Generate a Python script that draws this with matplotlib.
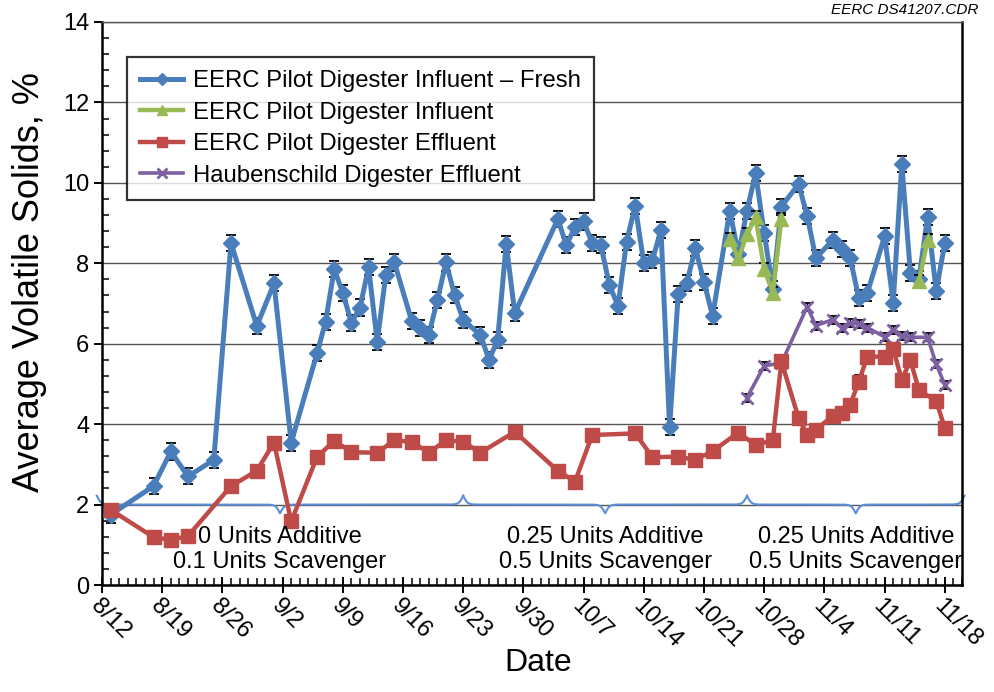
import numpy as np
import pandas as pd
import matplotlib
matplotlib.use("Agg")
import matplotlib.pyplot as plt
import matplotlib.dates as mdates
from matplotlib.ticker import MultipleLocator

plt.rcParams["font.family"] = ["Liberation Sans", "DejaVu Sans"]

YEAR = 2013

# EERC pilot digester influent, fresh samples (%)
fresh_dates = ["8/13", "8/18", "8/20", "8/22", "8/25", "8/27", "8/30", "9/1", "9/3",
               "9/6", "9/7", "9/8", "9/9", "9/10", "9/11", "9/12", "9/13", "9/14",
               "9/15", "9/17", "9/18", "9/19", "9/20", "9/21", "9/22", "9/23", "9/25",
               "9/26", "9/27", "9/28", "9/29", "10/4", "10/5", "10/6", "10/7", "10/8",
               "10/9", "10/10", "10/11", "10/12", "10/13", "10/14", "10/15", "10/16",
               "10/17", "10/18", "10/19", "10/20", "10/21", "10/22", "10/24", "10/25",
               "10/26", "10/27", "10/28", "10/29", "10/30", "11/1", "11/2", "11/3",
               "11/5", "11/6", "11/7", "11/8", "11/9", "11/11", "11/12", "11/13",
               "11/14", "11/15", "11/16", "11/17", "11/18"]
fresh_vals = [1.75, 2.46, 3.32, 2.70, 3.11, 8.51, 6.44, 7.50, 3.54,
              5.76, 6.55, 7.85, 7.27, 6.52, 6.90, 7.90, 6.05, 7.71,
              8.02, 6.57, 6.39, 6.22, 7.09, 8.02, 7.21, 6.59, 6.22,
              5.60, 6.09, 8.48, 6.76, 9.10, 8.45, 8.90, 9.04, 8.50,
              8.46, 7.46, 6.94, 8.54, 9.43, 8.00, 8.08, 8.83,
              3.92, 7.23, 7.52, 8.37, 7.54, 6.69, 9.31, 8.22,
              9.31, 10.24, 8.75, 7.36, 9.41, 9.97, 9.18, 8.13,
              8.58, 8.35, 8.13, 7.13, 7.27, 8.67, 7.02, 10.47,
              7.76, 7.62, 9.16, 7.31, 8.50]

# EERC pilot digester influent (two sampling runs)
influent_dates_a = ["10/24", "10/25", "10/26", "10/27", "10/28", "10/29", "10/30"]
influent_vals_a = [8.60, 8.12, 8.72, 9.14, 7.86, 7.26, 9.10]
influent_dates_b = ["11/15", "11/16"]
influent_vals_b = [7.56, 8.58]

# EERC pilot digester effluent (%)
effluent_dates = ["8/13", "8/18", "8/20", "8/22", "8/27", "8/30", "9/1", "9/3", "9/6",
                  "9/8", "9/10", "9/13", "9/15", "9/17", "9/19", "9/21", "9/23", "9/25",
                  "9/29", "10/4", "10/6", "10/8", "10/13", "10/15", "10/18", "10/20",
                  "10/22", "10/25", "10/27", "10/29", "10/30", "11/1", "11/2", "11/3",
                  "11/5", "11/6", "11/7", "11/8", "11/9", "11/11", "11/12", "11/13",
                  "11/14", "11/15", "11/17", "11/18"]
effluent_vals = [1.87, 1.19, 1.12, 1.22, 2.46, 2.84, 3.54, 1.58, 3.18,
                 3.59, 3.30, 3.29, 3.60, 3.56, 3.29, 3.60, 3.56, 3.29,
                 3.81, 2.84, 2.57, 3.73, 3.77, 3.18, 3.19, 3.11,
                 3.33, 3.79, 3.48, 3.60, 5.56, 4.15, 3.73, 3.86,
                 4.21, 4.27, 4.48, 5.06, 5.68, 5.68, 5.87, 5.10,
                 5.59, 4.84, 4.58, 3.90]

# Haubenschild full-scale digester effluent (%)
haub_dates = ["10/26", "10/28", "10/30", "11/2", "11/3", "11/5", "11/6", "11/7", "11/8",
              "11/9", "11/11", "11/12", "11/13", "11/14", "11/16", "11/17", "11/18"]
haub_vals = [4.66, 5.45, 5.52, 6.92, 6.45, 6.60, 6.40, 6.52, 6.49,
             6.40, 6.17, 6.34, 6.20, 6.16, 6.16, 5.49, 4.98]

# +/- error bar half-widths per series
fresh_err = 0.2
influent_err = 0.15
effluent_err = 0.15
haub_err = 0.1

# Treatment phases: boundaries and labels
phase_edges = ["8/12", "9/23", "10/26", "11/20"]
phase_labels = ["0 Units Additive\n0.1 Units Scavenger",
                "0.25 Units Additive\n0.5 Units Scavenger",
                "0.25 Units Additive\n0.5 Units Scavenger"]

xtick_labels = ["8/12", "8/19", "8/26", "9/2", "9/9", "9/16", "9/23", "9/30",
                "10/7", "10/14", "10/21", "10/28", "11/4", "11/11", "11/18"]
x_start, x_end = "8/12", "11/20"


def to_num(md):
    if isinstance(md, str):
        md = [md]
    d = pd.to_datetime([f"{YEAR}/{s}" for s in md], format="%Y/%m/%d")
    return mdates.date2num(d.to_pydatetime())


BLUE = "#4A7EBB"
GREEN = "#98B954"
RED = "#BE4B48"
PURPLE = "#7D60A0"

fig = plt.figure(figsize=(9.95, 6.92), dpi=100)
ax = fig.add_axes([102 / 995, 1 - 585 / 692, 860 / 995, 563 / 692])

eb_kw = dict(fmt="none", ecolor="black", elinewidth=1.0, capsize=3.5, capthick=1.3)

# fresh influent
xf = to_num(fresh_dates)
ax.errorbar(xf, fresh_vals, yerr=fresh_err, zorder=2.5, **eb_kw)
l1, = ax.plot(xf, fresh_vals, color=BLUE, lw=3.6, marker="D", ms=8.5,
              mfc=BLUE, mec=BLUE, zorder=3,
              label="EERC Pilot Digester Influent \u2013 Fresh")

# influent
l2 = None
for ds, vs in [(influent_dates_a, influent_vals_a), (influent_dates_b, influent_vals_b)]:
    xi = to_num(ds)
    ax.errorbar(xi, vs, yerr=influent_err, zorder=3.5, **eb_kw)
    h, = ax.plot(xi, vs, color=GREEN, lw=3.2, marker="^", ms=10,
                 mfc=GREEN, mec=GREEN, zorder=4)
    if l2 is None:
        l2 = h
        h.set_label("EERC Pilot Digester Influent")

# Haubenschild effluent
xh = to_num(haub_dates)
ax.errorbar(xh, haub_vals, yerr=haub_err, zorder=4.5, **eb_kw)
l4, = ax.plot(xh, haub_vals, color=PURPLE, lw=2.6, marker="x", ms=9, mew=2,
              mec=PURPLE, zorder=5, label="Haubenschild Digester Effluent")

# pilot effluent
xe = to_num(effluent_dates)
ax.errorbar(xe, effluent_vals, yerr=effluent_err, zorder=5.5, **eb_kw)
l3, = ax.plot(xe, effluent_vals, color=RED, lw=3.2, marker="s", ms=9.5,
              mfc=RED, mec=RED, zorder=6, label="EERC Pilot Digester Effluent")

# axes ranges and ticks
ax.set_xlim(to_num(x_start)[0], to_num(x_end)[0])
ax.set_ylim(0, 14)
ax.set_yticks(np.arange(0, 15, 2))
ax.yaxis.set_minor_locator(MultipleLocator(0.4))
ax.set_xticks(to_num(xtick_labels), labels=xtick_labels)
ax.xaxis.set_minor_locator(mdates.DayLocator())

ax.tick_params(axis="x", which="major", direction="inout", length=11, width=1.4,
               labelsize=17, pad=2)
ax.tick_params(axis="x", which="minor", direction="in", length=5, width=1.1)
ax.tick_params(axis="y", which="major", direction="out", length=6, width=1.4,
               labelsize=17, pad=3)
ax.tick_params(axis="y", which="minor", direction="in", length=5, width=1.1)
for lbl in ax.get_xticklabels():
    lbl.set_rotation(-45)
    lbl.set_ha("left")
    lbl.set_va("top")
    lbl.set_rotation_mode("anchor")

ax.yaxis.grid(True, which="major", color="#555555", lw=1.0)
ax.set_axisbelow(True)
for side in ["left", "bottom", "right"]:
    ax.spines[side].set_linewidth(1.8)
    ax.spines[side].set_color("black")
ax.spines["top"].set_linewidth(1.0)
ax.spines["top"].set_color("#555555")

ax.set_ylabel("Average Volatile Solids, %", fontsize=26)
ax.yaxis.set_label_coords(-0.064, 0.538)
ax.set_xlabel("Date", fontsize=23)
ax.xaxis.set_label_coords(0.507, -0.112)

# treatment-phase braces along y = 2
def sig(z):
    return 1.0 / (1.0 + np.exp(-z))

edges = to_num(phase_edges)
edges[0] -= 0.6
edges[-1] += 0.3
y0, h, w = 2.0, 0.22, 0.25
for i, text in enumerate(phase_labels):
    a, b = edges[i], edges[i + 1]
    m = 0.5 * (a + b)
    xs = np.linspace(a, b, 1500)
    yl = 2 * h * (1 - sig((xs - a) / w)) - 2 * h * sig((xs - m) / w)
    yr = 2 * h * (1 - sig((b - xs) / w)) - 2 * h * sig((m - xs) / w)
    ys = y0 + np.where(xs <= m, yl, yr)
    ax.plot(xs, ys, color="#5B8ED6", lw=1.5, clip_on=False, zorder=2)
    ax.text(m, 0.88, text, ha="center", va="center", fontsize=17,
            linespacing=1.15, zorder=7)

leg = ax.legend(handles=[l1, l2, l3, l4], loc="upper left",
                bbox_to_anchor=(0.029, 0.938), borderaxespad=0, fontsize=17.2,
                frameon=True, fancybox=False, edgecolor="black",
                handlelength=1.8, handletextpad=0.4, labelspacing=0.4,
                borderpad=0.55, markerscale=0.75)
leg.get_frame().set_linewidth(1.6)
leg.set_zorder(10)

fig.text(978 / 995, 1 - 10 / 692, "EERC DS41207.CDR", ha="right", va="center",
         fontsize=11, style="italic")

fig.savefig("out.png", dpi=100, facecolor="white")
